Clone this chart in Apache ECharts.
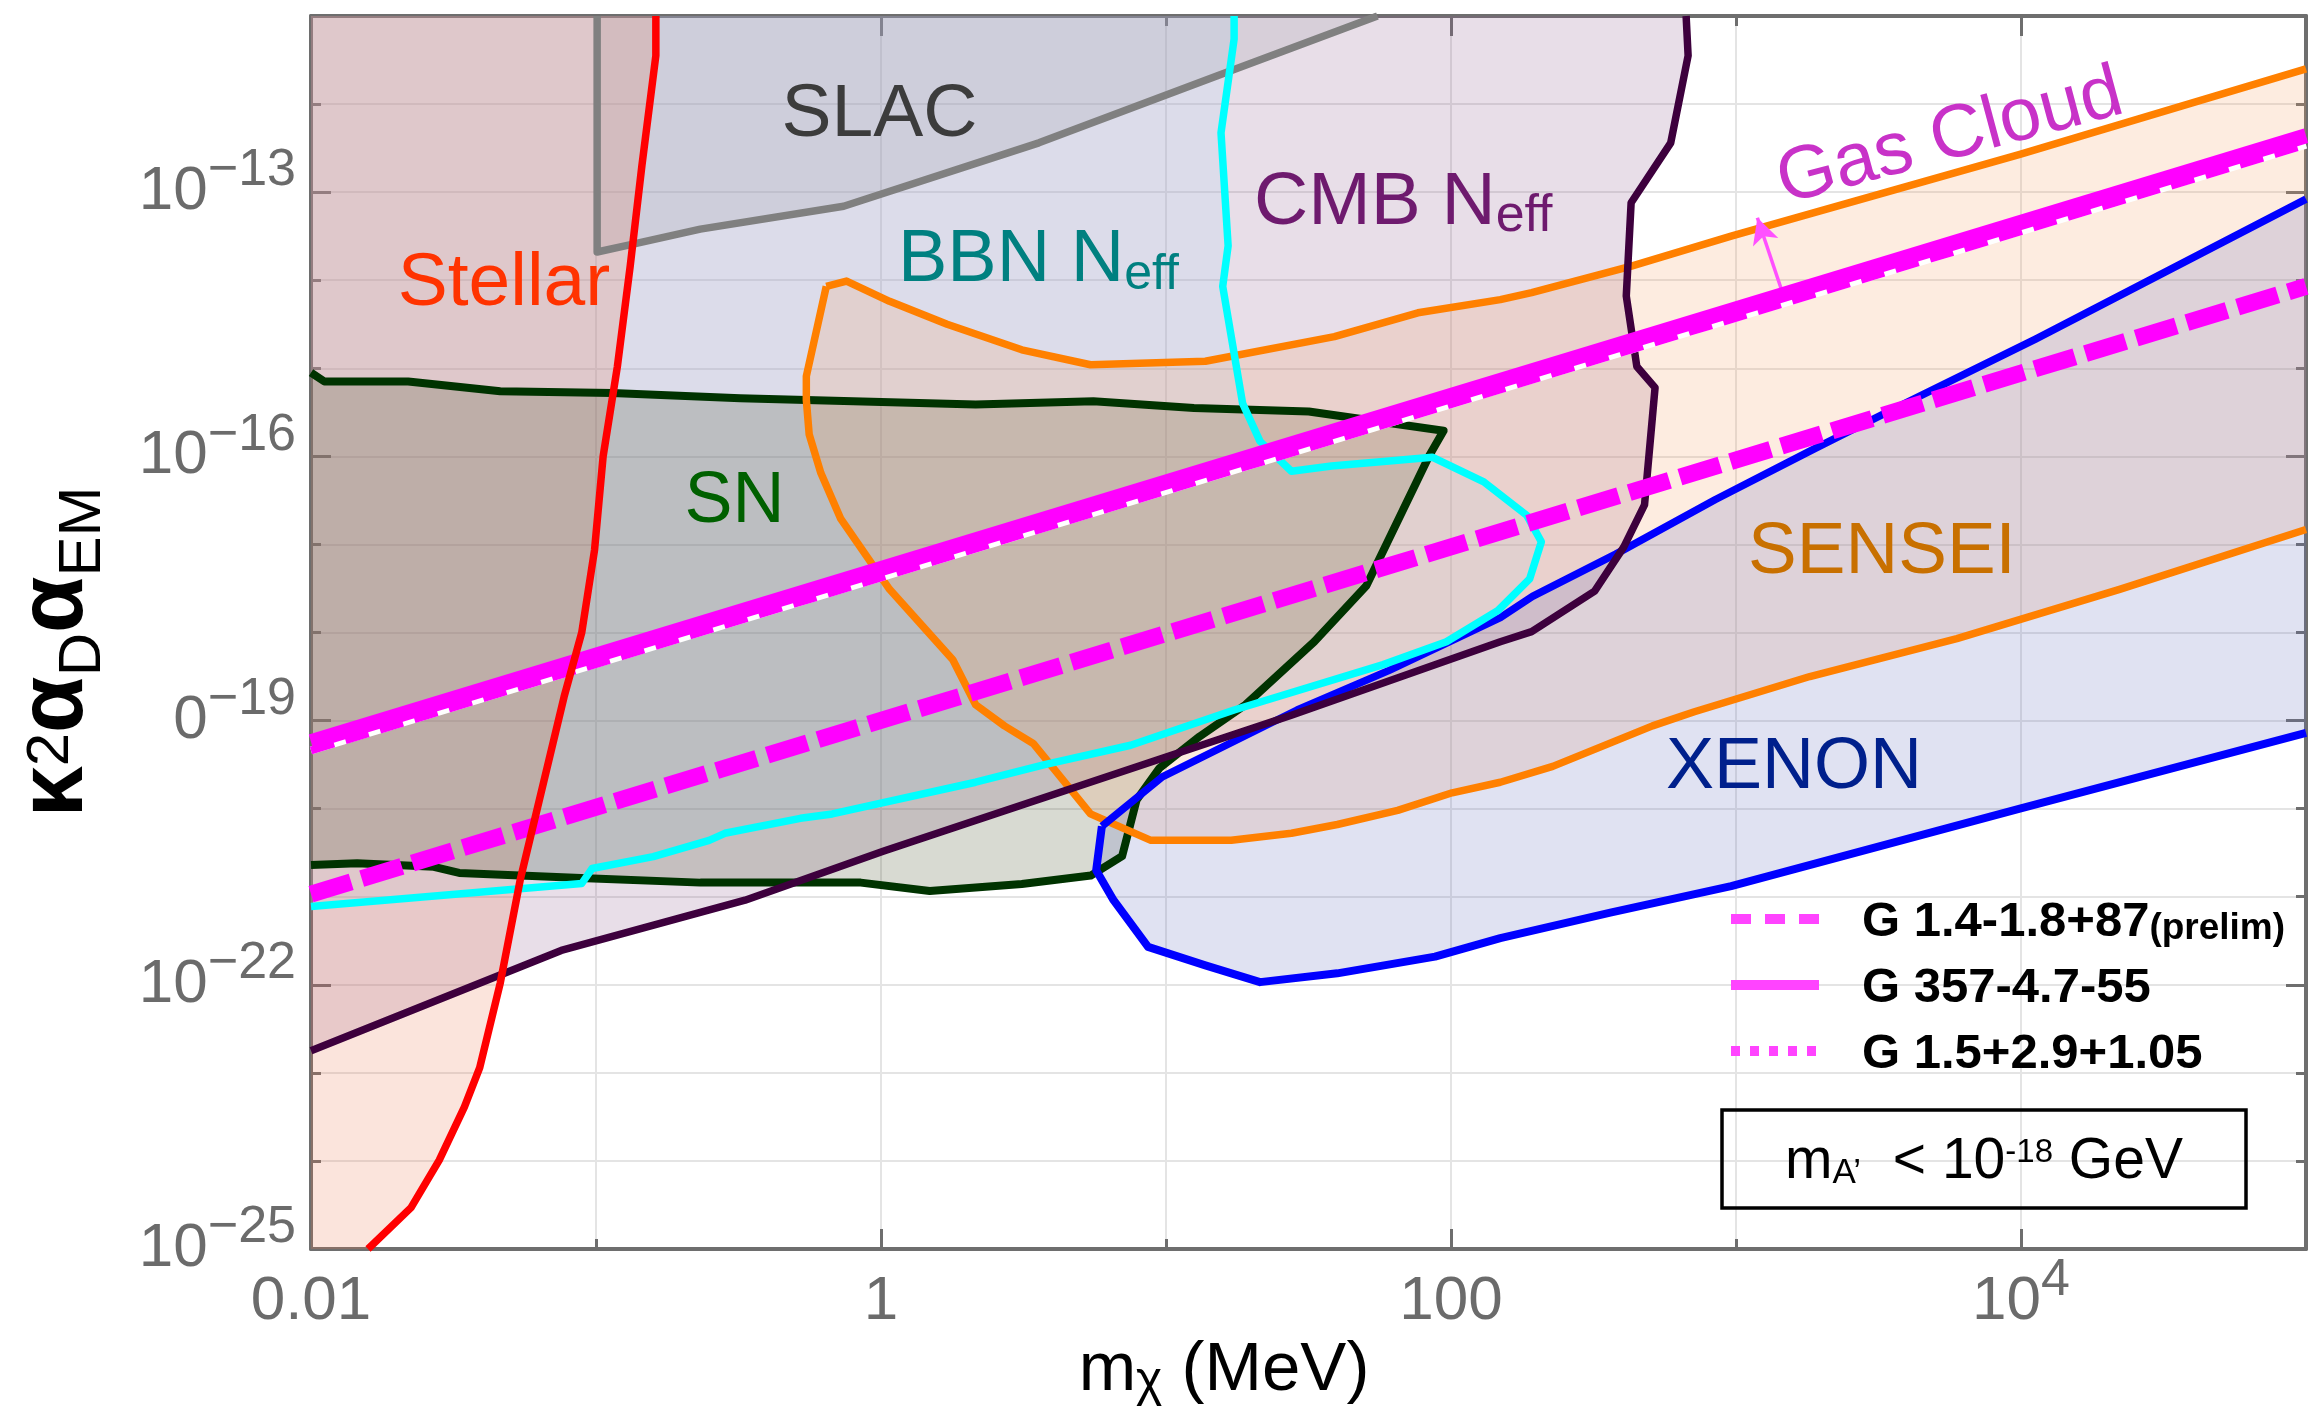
<!DOCTYPE html>
<html><head><meta charset="utf-8">
<script src="https://cdn.jsdelivr.net/npm/echarts@6/dist/echarts.min.js"></script>
<style>html,body{margin:0;padding:0;background:#fff}#c{width:2323px;height:1424px}</style>
</head><body><div id="c"></div>
<script>
// All values are log10: x = log10(m_chi / MeV), y = log10(kappa^2 alpha_D alpha_EM)
const xTickText = {'-2':['0.01',''], '0':['1',''], '2':['100',''], '4':['10','4']};
const yTickText = {'-25':['10','−25'], '-22':['10','−22'], '-19':['0','−19'], '-16':['10','−16'], '-13':['10','−13']};

const stellarX = [-1.80, -1.649, -1.550, -1.462, -1.408, -1.336, -1.266, -1.112, -1.050, -1.005, -0.975, -0.925, -0.880, -0.839, -0.790, -0.790];
const stellarY = [-25.0, -24.53, -23.99, -23.39, -22.94, -21.98, -20.81, -18.73, -18.0, -17.06, -16.0, -14.98, -13.84, -12.70, -11.45, -11.0];

const slacX = [-0.996, -0.996, -0.870, -0.634, -0.131, 0.554, 1.178, 1.742];
const slacY = [-11.0, -13.68, -13.59, -13.42, -13.16, -12.44, -11.68, -11.0];

const bbnX = [-2.0, -1.050, -1.014, -0.799, -0.603, -0.548, -0.283, -0.171, 0.332, 0.574, 0.876, 1.239, 1.762, 1.984, 2.165, 2.276, 2.317, 2.266, 2.115, 1.934, 1.581, 1.440, 1.330, 1.269, 1.199, 1.218, 1.193, 1.239, 1.239];
const bbnY = [-21.11, -20.85, -20.68, -20.545, -20.36, -20.28, -20.11, -20.06, -19.70, -19.50, -19.28, -18.88, -18.365, -18.105, -17.75, -17.39, -16.97, -16.67, -16.29, -16.01, -16.11, -16.17, -15.83, -15.40, -14.07, -13.61, -12.325, -11.26, -11.0];

const cmbX = [-2.0, -1.122, -0.477, 0.010, 1.440, 2.173, 2.283, 2.504, 2.606, 2.679, 2.716, 2.652, 2.615, 2.632, 2.771, 2.832, 2.825];
const cmbY = [-22.75, -21.61, -21.04, -20.48, -18.94, -18.105, -17.99, -17.53, -17.03, -16.55, -15.22, -14.98, -14.18, -13.12, -12.44, -11.45, -11.0];

const snX = [-2.0, -1.953, -1.659, -1.336, -0.943, -0.494, 0.332, 0.745, 1.098, 1.501, 1.974, 1.924, 1.703, 1.520, 1.279, 1.118, 0.977, 0.897, 0.846, 0.736, 0.494, 0.171, -0.071, -0.634, -1.032, -1.480, -1.569, -1.838, -2.0];
const snY = [-15.05, -15.15, -15.15, -15.26, -15.28, -15.34, -15.41, -15.375, -15.45, -15.49, -15.71, -15.99, -17.47, -18.105, -18.82, -19.18, -19.54, -19.90, -20.54, -20.76, -20.855, -20.935, -20.84, -20.84, -20.79, -20.73, -20.66, -20.62, -20.64];

const senseiUpX = [-0.192, -0.121, 0.030, 0.232, 0.494, 0.735, 1.138, 1.591, 1.884, 2.173, 2.283, 2.633, 2.983, 3.996, 5.0];
const senseiUpY = [-14.07, -14.01, -14.24, -14.50, -14.79, -14.96, -14.92, -14.64, -14.37, -14.22, -14.14, -13.84, -13.50, -12.57, -11.60];
const senseiLoX = [5.0, 4.346, 3.775, 3.259, 2.854, 2.707, 2.357, 2.173, 2.004, 1.813, 1.601, 1.440, 1.229, 0.947, 0.735, 0.534, 0.433, 0.332, 0.252, 0.030, -0.141, -0.211, -0.252, -0.262, -0.262, -0.192];
const senseiLoY = [-16.83, -17.51, -18.07, -18.50, -18.90, -19.06, -19.52, -19.70, -19.82, -20.02, -20.18, -20.28, -20.36, -20.36, -20.06, -19.26, -19.06, -18.82, -18.31, -17.51, -16.71, -16.19, -15.75, -15.36, -15.09, -14.07];

const xenonUpX = [0.775, 0.987, 1.460, 1.783, 2.173, 2.286, 2.578, 2.928, 3.278, 3.536, 4.051, 5.0];
const xenonUpY = [-20.20, -19.64, -18.88, -18.43, -17.83, -17.59, -17.11, -16.49, -15.91, -15.49, -14.67, -13.08];
const xenonLoX = [5.0, 3.996, 2.983, 2.559, 2.173, 1.944, 1.601, 1.330, 1.138, 0.937, 0.816, 0.755, 0.775];
const xenonLoY = [-19.14, -20.00, -20.88, -21.18, -21.47, -21.68, -21.87, -21.97, -21.78, -21.57, -21.04, -20.70, -20.20];

const g1418X = [-2.0, 5.0], g1418Y = [-20.97, -14.07];   // dashed (prelim)
const g357X  = [-2.0, 5.0], g357Y  = [-19.24, -12.36];   // solid
const g1529X = [-2.0, 5.0], g1529Y = [-19.34, -12.46];   // dotted

const arrowFrom = [3.167, -14.18], arrowTo = [3.075, -13.29];

// ---------------------------------------------------------------
const xMin = -2, xMax = 5, yMin = -25, yMax = -11;
const FONT = "'Liberation Sans', Arial, Helvetica, sans-serif";
const zip = (xs, ys) => xs.map((x, i) => [x, ys[i]]);

function polySeries(name, pts, fill) {
  return {
    type: 'custom', name: name, silent: true, clip: true, z: 1, animation: false,
    data: pts,
    renderItem: function (params, api) {
      if (params.dataIndex !== 0) return null;
      return { type: 'polygon', shape: { points: pts.map(p => api.coord(p)) },
               style: { fill: fill, stroke: null } };
    }
  };
}
function lineSeries(name, pts, color, width, z, type, extra) {
  const s = {
    type: 'line', name: name, data: pts, symbol: 'none', showSymbol: false, silent: true,
    animation: false, z: z, clip: true,
    lineStyle: { color: color, width: width, type: type || 'solid', join: 'round', cap: 'butt' }
  };
  return Object.assign(s, extra || {});
}

const stellarPts = zip(stellarX, stellarY);
const slacPts = zip(slacX, slacY);
const bbnPts = zip(bbnX, bbnY);
const cmbPts = zip(cmbX, cmbY);
const snPts = zip(snX, snY);
const senUp = zip(senseiUpX, senseiUpY), senLo = zip(senseiLoX, senseiLoY);
const xenUp = zip(xenonUpX, xenonUpY), xenLo = zip(xenonLoX, xenonLoY);

const LW = 7.5;
const series = [
  polySeries('cmbFill', cmbPts.concat([[xMin, yMax]]), 'rgba(140,90,140,0.2)'),
  polySeries('bbnFill', bbnPts.concat([[xMin, yMax]]), 'rgba(175,215,245,0.2)'),
  polySeries('slacFill', slacPts, 'rgba(150,150,158,0.2)'),
  polySeries('stellarFill', stellarPts.concat([[xMin, yMax], [xMin, yMin]]), 'rgba(235,120,80,0.2)'),
  polySeries('snFill', snPts, 'rgba(60,70,30,0.2)'),
  polySeries('senseiFill', senUp.concat(senLo), 'rgba(245,160,100,0.2)'),
  polySeries('xenonFill', xenUp.concat(xenLo), 'rgba(100,110,190,0.2)'),

  lineSeries('SLAC', slacPts, '#808080', LW, 3),
  lineSeries('SN', snPts, '#003300', LW + 0.5, 3),
  lineSeries('SENSEI up', senUp, '#ff8000', LW, 3),
  lineSeries('SENSEI lo', senLo, '#ff8000', LW, 3),
  lineSeries('XENON up', xenUp, '#0000ff', LW, 3),
  lineSeries('XENON lo', xenLo, '#0000ff', LW + 0.5, 3),
  lineSeries('CMB', cmbPts, '#3d003d', LW, 3),
  lineSeries('BBN', bbnPts, '#00ffff', LW, 3),

  lineSeries('dotted underlay', zip(g1529X, g1529Y), '#ffffff', 8, 4),
  lineSeries('G 1.5+2.9+1.05', zip(g1529X, g1529Y), '#ff00ff', 8, 5, [24, 12]),
  lineSeries('G 1.4-1.8+87', zip(g1418X, g1418Y), '#ff00ff', 17, 5, [42, 11]),
  lineSeries('G 357-4.7-55', zip(g357X, g357Y), '#ff00ff', 15, 6, 'solid', {
    markLine: {
      silent: true, animation: false, symbol: ['none', 'arrow'], symbolSize: [20, 26],
      label: { show: false },
      lineStyle: { color: '#ff50ff', width: 3.5, type: 'solid' },
      data: [[{ coord: arrowFrom }, { coord: arrowTo }]]
    }
  }),
  lineSeries('Stellar', stellarPts, '#ff0000', LW, 7)
];

const axisGray = '#6e6e6e';
function xAx(pos, interval, tickLen, opts) {
  return Object.assign({
    type: 'value', position: pos, min: xMin, max: xMax, interval: interval,
    axisLine: { show: false, onZero: false },
    axisTick: { show: true, inside: true, length: tickLen, lineStyle: { color: axisGray, width: 3 } },
    axisLabel: { show: false },
    splitLine: { show: false }
  }, opts || {});
}
function yAx(pos, interval, tickLen, opts) {
  return Object.assign({
    type: 'value', position: pos, min: yMin, max: yMax, interval: interval,
    axisLine: { show: false, onZero: false },
    axisTick: { show: true, inside: true, length: tickLen, lineStyle: { color: axisGray, width: 3 } },
    axisLabel: { show: false },
    splitLine: { show: false }
  }, opts || {});
}
const frameLine = { show: true, onZero: false, lineStyle: { color: axisGray, width: 4 } };
const grid = { show: false, left: 311, right: 17, top: 16, bottom: 175 };
const tickRich = {
  b: { fontSize: 62, lineHeight: 62, color: '#6b6b6b', fontFamily: FONT, verticalAlign: 'bottom' },
  s: { fontSize: 52, lineHeight: 52, color: '#6b6b6b', fontFamily: FONT, verticalAlign: 'bottom', padding: [0, 0, 26, 0] }
};
function richLabel(t) {
  if (!t) return '';
  return '{b|' + t[0] + '}' + (t[1] ? '{s|' + t[1] + '}' : '');
}
const noSym = { color: 'rgba(0,0,0,0)', borderColor: 'rgba(0,0,0,0)', borderWidth: 0, opacity: 0 };

const option = {
  animation: false,
  backgroundColor: '#ffffff',
  grid: grid,
  xAxis: [
    xAx('bottom', 1, 10, { axisLine: frameLine, splitLine: { show: true, lineStyle: { color: '#e4e4e4', width: 2 } } }),
    xAx('bottom', 2, 20, { axisLabel: { show: true, margin: 22, formatter: v => richLabel(xTickText[String(v)]), rich: tickRich, color: '#6b6b6b' } }),
    xAx('top', 1, 10, { axisLine: frameLine }),
    xAx('top', 2, 20)
  ],
  yAxis: [
    yAx('left', 1, 10, { axisLine: frameLine, splitLine: { show: true, lineStyle: { color: '#e4e4e4', width: 2 } } }),
    yAx('left', 3, 20, { axisLabel: { show: true, margin: 15, formatter: v => richLabel(yTickText[String(v)]), rich: tickRich, color: '#6b6b6b' } }),
    yAx('right', 1, 10, { axisLine: frameLine }),
    yAx('right', 3, 20)
  ],
  legend: {
    show: true, orient: 'vertical', left: 1726, top: 898, selectedMode: false,
    itemWidth: 88, itemHeight: 10, itemGap: 17, padding: 0,
    formatter: function (name) { return name === 'G 1.4-1.8+87' ? '{t|' + name + '}{p|(prelim)}' : '{t|' + name + '}'; },
    textStyle: {
      fontSize: 49, fontWeight: 'bold', color: '#000', fontFamily: FONT, padding: [0, 0, 0, 38],
      rich: {
        t: { fontSize: 49, lineHeight: 56, fontWeight: 'bold', color: '#000', fontFamily: FONT, verticalAlign: 'bottom' },
        p: { fontSize: 37, lineHeight: 48, fontWeight: 'bold', color: '#000', fontFamily: FONT, verticalAlign: 'bottom' }
      }
    },
    data: [
      { name: 'G 1.4-1.8+87', itemStyle: noSym, lineStyle: { color: '#ff44ff', width: 10, type: [20, 14] } },
      { name: 'G 357-4.7-55', itemStyle: noSym, lineStyle: { color: '#ff44ff', width: 10, type: 'solid' } },
      { name: 'G 1.5+2.9+1.05', itemStyle: noSym, lineStyle: { color: '#ff44ff', width: 10, type: [9, 10] } }
    ]
  },
  series: series,
  graphic: [
    { type: 'text', x: 879.5, y: 115.5, z: 100, silent: true,
      style: { text: 'SLAC', fontSize: 75, fontFamily: FONT, fill: '#3c3c3c', align: 'center', verticalAlign: 'middle' } },
    { type: 'text', x: 504, y: 284.5, z: 100, silent: true,
      style: { text: 'Stellar', fontSize: 75, fontFamily: FONT, fill: '#ff3300', align: 'center', verticalAlign: 'middle' } },
    { type: 'text', x: 898, y: 263, z: 100, silent: true,
      style: { text: '{m|BBN N}{s|eff}', align: 'left', verticalAlign: 'middle',
        rich: { m: { fontSize: 74, lineHeight: 74, fontFamily: FONT, fill: '#008080', verticalAlign: 'bottom', padding: [0, 0, 2, 0] },
                s: { fontSize: 50, lineHeight: 50, fontFamily: FONT, fill: '#008080', verticalAlign: 'bottom' } } } },
    { type: 'text', x: 1254, y: 205, z: 100, silent: true,
      style: { text: '{m|CMB N}{s|eff}', align: 'left', verticalAlign: 'middle',
        rich: { m: { fontSize: 75, lineHeight: 75, fontFamily: FONT, fill: '#6e1a6e', verticalAlign: 'bottom', padding: [0, 0, 2, 0] },
                s: { fontSize: 52, lineHeight: 52, fontFamily: FONT, fill: '#6e1a6e', verticalAlign: 'bottom' } } } },
    { type: 'text', x: 734.5, y: 502.5, z: 100, silent: true,
      style: { text: 'SN', fontSize: 72, fontFamily: FONT, fill: '#006000', align: 'center', verticalAlign: 'middle' } },
    { type: 'text', x: 1882, y: 552.5, z: 100, silent: true,
      style: { text: 'SENSEI', fontSize: 73, fontFamily: FONT, fill: '#c87000', align: 'center', verticalAlign: 'middle' } },
    { type: 'text', x: 1794, y: 768, z: 100, silent: true,
      style: { text: 'XENON', fontSize: 72, fontFamily: FONT, fill: '#00208c', align: 'center', verticalAlign: 'middle' } },
    { type: 'text', x: 1950, y: 138, z: 100, silent: true, rotation: 15 * Math.PI / 180,
      style: { text: 'Gas Cloud', fontSize: 75, fontFamily: FONT, fill: '#c832c8', align: 'center', verticalAlign: 'middle' } },
    // axis names
    { type: 'text', x: 1224, y: 1373, z: 100, silent: true,
      style: { text: '{m|m}{s|χ}{m| (MeV)}', align: 'center', verticalAlign: 'middle',
        rich: { m: { fontSize: 69, lineHeight: 69, fontFamily: FONT, fill: '#000', verticalAlign: 'bottom', padding: [0, 0, 2, 0] },
                s: { fontSize: 50, lineHeight: 50, fontFamily: FONT, fill: '#000', verticalAlign: 'bottom' } } } },
    { type: 'text', x: 67, y: 652, z: 100, silent: true, rotation: Math.PI / 2,
      style: { text: '{g|κ}{p|2}{g|α}{s|D}{g|α}{s|EM}', align: 'center', verticalAlign: 'middle',
        rich: { g: { fontSize: 92, lineHeight: 92, fontWeight: 'bold', fontFamily: FONT, fill: '#000', verticalAlign: 'bottom', padding: [0, 0, 10, 0] },
                p: { fontSize: 60, lineHeight: 60, fontFamily: FONT, fill: '#000', verticalAlign: 'top' },
                s: { fontSize: 60, lineHeight: 60, fontFamily: FONT, fill: '#000', verticalAlign: 'bottom' } } } },
    // box
    { type: 'rect', z: 100, silent: true, shape: { x: 1722, y: 1110, width: 524, height: 98 },
      style: { fill: null, stroke: '#000', lineWidth: 3.5 } },
    { type: 'text', x: 1984, y: 1162, z: 100, silent: true,
      style: { text: '{m|m}{s|A’}{m|  < 10}{p|-18}{m| GeV}', align: 'center', verticalAlign: 'middle',
        rich: { m: { fontSize: 57, lineHeight: 57, fontFamily: FONT, fill: '#000', verticalAlign: 'bottom' },
                s: { fontSize: 35, lineHeight: 35, fontFamily: FONT, fill: '#000', verticalAlign: 'bottom' },
                p: { fontSize: 33, lineHeight: 33, fontFamily: FONT, fill: '#000', verticalAlign: 'bottom', padding: [0, 0, 21, 0] } } } }
  ]
};

const chart = echarts.init(document.getElementById('c'), null, { renderer: 'canvas' });
chart.setOption(option);
</script>
</body></html>
